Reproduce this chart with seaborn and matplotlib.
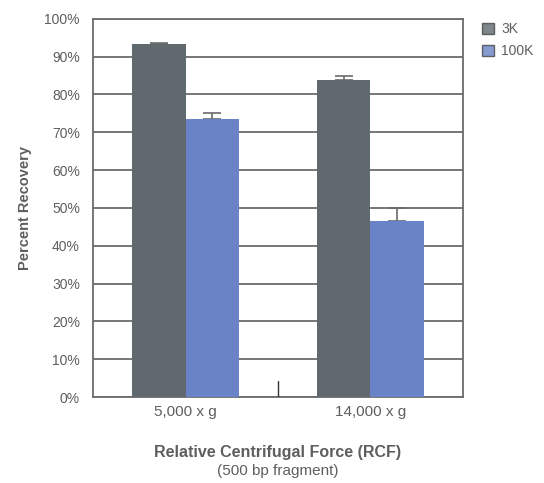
import pandas as pd
import numpy as np
import matplotlib
matplotlib.use("Agg")
import matplotlib.pyplot as plt
import seaborn as sns
from matplotlib.patches import Patch

# values
categories = ["5,000 x g", "14,000 x g"]
devices = ["3K", "100K"]
recovery_3k = [93.3, 83.8]
recovery_100k = [73.5, 46.5]
err_3k = [0.3, 1.0]
err_100k = [1.5, 3.5]
y_ticks = [0, 10, 20, 30, 40, 50, 60, 70, 80, 90, 100]

GRAY = "#5f696e"
BLUE = "#6a82c6"
TEXT = "#5e5e5e"
LINE = "#6b6b6b"

df = pd.DataFrame({
    "rcf": categories * 2,
    "device": [devices[0]] * 2 + [devices[1]] * 2,
    "recovery": recovery_3k + recovery_100k,
    "err": err_3k + err_100k,
})

sns.set_style("white")
plt.rcParams["font.family"] = ["Liberation Sans", "DejaVu Sans"]

fig = plt.figure(figsize=(5.44, 4.83), dpi=100)
ax = fig.add_axes([0.171, 0.178, 0.68, 0.783])

sns.barplot(data=df, x="rcf", y="recovery", hue="device", order=categories,
            hue_order=devices, palette=[GRAY, BLUE], width=0.58, saturation=1,
            errorbar=None, legend=False, linewidth=0, ax=ax, zorder=3)

# one-sided error bars placed on the bars seaborn drew
for patch, (_, row) in zip(ax.patches, df.iterrows()):
    xc = patch.get_x() + patch.get_width() / 2
    ax.errorbar(xc, row["recovery"], yerr=[[0], [row["err"]]], fmt="none",
                ecolor=LINE, elinewidth=1.2, capsize=6.5, capthick=1.2, zorder=2)

ax.set_ylim(0, 100)
ax.set_xlim(-0.5, 1.5)
ax.set_yticks(y_ticks)
ax.set_yticklabels([f"{t}%" for t in y_ticks])
ax.yaxis.grid(True, color=LINE, linewidth=1.3, zorder=1)
ax.set_axisbelow(True)
for s in ax.spines.values():
    s.set_color(LINE)
    s.set_linewidth(1.3)

ax.tick_params(axis="y", length=0, pad=9.5, labelsize=10, labelcolor=TEXT)
ax.tick_params(axis="x", length=0, pad=6, labelsize=11, labelcolor=TEXT)
# separator tick between the two groups
ax.plot([0.5, 0.5], [0, 4.2], color="#333333", linewidth=1.0, zorder=4)

ax.set_ylabel("Percent Recovery", fontsize=10.5, fontweight="bold", color=TEXT, labelpad=9)
ax.set_xlabel("")
fig.text(0.5 * (0.171 + 0.851), 0.048, "Relative Centrifugal Force (RCF)",
         ha="center", va="bottom", fontsize=11.5, fontweight="bold", color=TEXT)
fig.text(0.5 * (0.171 + 0.851), 0.010, "(500 bp fragment)",
         ha="center", va="bottom", fontsize=11, color=TEXT)

handles = [Patch(facecolor=GRAY, edgecolor="#444444", alpha=0.8, label=devices[0]),
           Patch(facecolor=BLUE, edgecolor="#444444", alpha=0.8, label=devices[1])]
leg = fig.legend(handles=handles, loc="upper left", bbox_to_anchor=(0.875, 0.965),
                 frameon=False, fontsize=10, handlelength=0.9, handleheight=0.9,
                 handletextpad=0.5, labelspacing=0.55, borderaxespad=0)
for t in leg.get_texts():
    t.set_color(TEXT)

fig.savefig("out.png", dpi=100)
